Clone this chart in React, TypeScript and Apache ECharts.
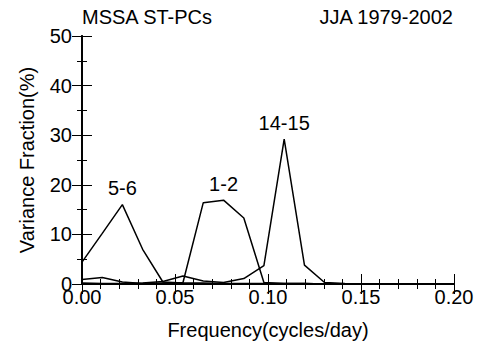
import React, { useEffect, useRef } from "react";
import * as echarts from "echarts";

const freqs: number[] = [0, 0.0109, 0.0217, 0.0326, 0.0435, 0.0543, 0.0652, 0.0761, 0.087, 0.0978, 0.1087, 0.1196, 0.1304, 0.1413, 0.1522, 0.163, 0.1739, 0.1848, 0.1957];
const pc56: number[] = [4.4, 10.2, 16, 7, 0.4, 0.2, 0.2, 0.1, 0.1, 0.1, 0.1, 0.1, 0, 0, 0, 0, 0, 0, 0];
const pc12: number[] = [0.9, 1.3, 0.4, 0.1, 0.2, 0.3, 16.4, 16.9, 13.3, 0.3, 0.1, 0.1, 0, 0, 0, 0, 0, 0, 0];
const pc1415: number[] = [0.2, 0.1, 0.1, 0.2, 0.5, 1.6, 0.6, 0.3, 1.1, 3.7, 29.2, 3.8, 0.3, 0.1, 0, 0, 0, 0, 0];
const pairNames: string[] = ["5-6", "1-2", "14-15"];
const peakIdx: number[] = [2, 7, 10];

const FONT = "Liberation Sans, Arial, Helvetica, sans-serif";
const FS = 20;

export default function App() {
  const ref = useRef<HTMLDivElement>(null);
  useEffect(() => {
    if (!ref.current) return;
    const chart = echarts.init(ref.current, undefined, { renderer: "svg" });
    const seriesData = [pc56, pc12, pc1415];
    const axisLine = { show: true, lineStyle: { color: "#000", width: 1.8 } };
    const tickStyle = { color: "#000", width: 1 };
    chart.setOption({
      animation: false,
      backgroundColor: "#fff",
      textStyle: { fontFamily: FONT },
      grid: { left: 82, right: 29, top: 36, bottom: 60 },
      graphic: [
        { type: "text", left: 82, top: 7, style: { text: "MSSA ST-PCs", fontSize: FS, fontFamily: FONT, fill: "#000" } },
        { type: "text", right: 29, top: 7, style: { text: "JJA 1979-2002", fontSize: FS, fontFamily: FONT, fill: "#000" } },
      ],
      xAxis: [
        {
          type: "value", min: 0, max: 0.2, interval: 0.05,
          axisLine,
          axisTick: { show: true, inside: true, length: 10, lineStyle: tickStyle },
          minorTick: { show: true, splitNumber: 5, length: 5, lineStyle: tickStyle },
          splitLine: { show: false },
          axisLabel: { color: "#000", fontSize: FS, fontFamily: FONT, margin: 3, formatter: (v: number) => v.toFixed(2) },
          name: "Frequency(cycles/day)", nameLocation: "middle", nameGap: 36,
          nameTextStyle: { color: "#000", fontSize: FS, fontFamily: FONT },
        },
        {
          type: "value", position: "top", min: 0, max: 0.2, interval: 0.05,
          axisLine,
          axisTick: { show: true, inside: true, length: 10, lineStyle: tickStyle },
          minorTick: { show: true, splitNumber: 5, length: 5, lineStyle: tickStyle },
          splitLine: { show: false },
          axisLabel: { show: false },
        },
      ],
      yAxis: [
        {
          type: "value", min: 0, max: 50, interval: 10,
          axisLine,
          axisTick: { show: true, inside: true, length: 10, lineStyle: tickStyle },
          minorTick: { show: true, splitNumber: 2, length: 5, lineStyle: tickStyle },
          splitLine: { show: false },
          axisLabel: { color: "#000", fontSize: FS, fontFamily: FONT, margin: 10 },
          name: "Variance Fraction(%)", nameLocation: "middle", nameGap: 45,
          nameTextStyle: { color: "#000", fontSize: FS, fontFamily: FONT },
        },
        {
          type: "value", position: "right", min: 0, max: 50, interval: 10,
          axisLine,
          axisTick: { show: true, inside: true, length: 10, lineStyle: tickStyle },
          minorTick: { show: true, splitNumber: 2, length: 5, lineStyle: tickStyle },
          splitLine: { show: false },
          axisLabel: { show: false },
        },
      ],
      series: seriesData.map((vals, si) => ({
        type: "line",
        xAxisIndex: 0,
        yAxisIndex: 0,
        symbol: "none",
        clip: true,
        lineStyle: { color: "#000", width: 1.5 },
        data: vals.map((v, i) => [freqs[i], v]),
        markPoint: {
          symbol: "circle",
          symbolSize: 1,
          itemStyle: { color: "rgba(0,0,0,0)" },
          label: {
            show: true, position: "top", distance: 6,
            formatter: pairNames[si], color: "#000", fontSize: FS, fontFamily: FONT,
          },
          data: [{ coord: [freqs[peakIdx[si]], vals[peakIdx[si]]] }],
        },
      })),
    });
    return () => chart.dispose();
  }, []);
  return <div ref={ref} style={{ width: 483, height: 345, position: "absolute", left: 0, top: 0 }} />;
}
